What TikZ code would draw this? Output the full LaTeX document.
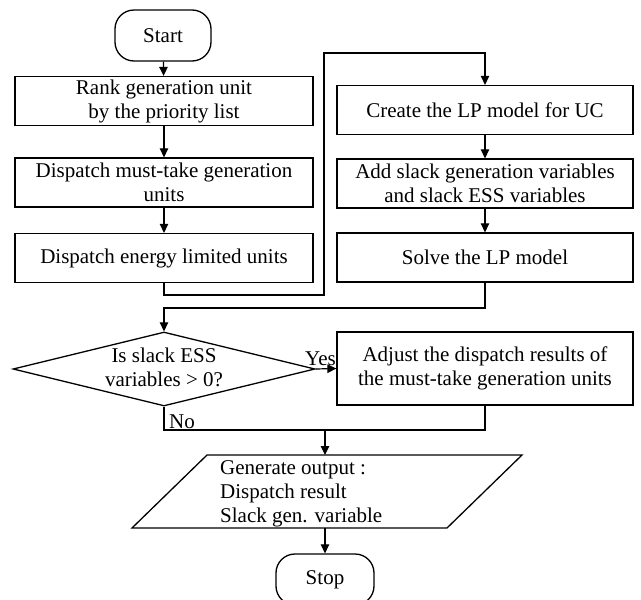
\documentclass[tikz,border=0pt]{standalone}
\usepackage{fontspec}
\setmainfont{Liberation Serif}
\usetikzlibrary{arrows.meta,shapes.geometric}
\begin{document}
\begin{tikzpicture}[x=1pt,y=-1pt,
  every node/.style={font=\fontsize{21}{24}\selectfont},
  proc/.style={draw, line width=1.3pt, minimum width=298pt, minimum height=49pt, inner sep=0pt, align=center},
  term/.style={draw, line width=1.3pt, rounded corners=19pt, minimum width=96pt, minimum height=51pt, inner sep=0pt},
  decision/.style={draw, diamond, line width=1.3pt, minimum width=302pt, minimum height=74pt, inner sep=0pt},
  arr/.style={line width=1.2pt, -{Triangle[length=9pt,width=8.5pt]}},
  ln/.style={line width=1.2pt},
  lbl/.style={inner sep=0pt}]
\useasboundingbox (0,0) rectangle (641,600);
\fill[white] (0,0) rectangle (641,600);
% left column
\node[term] (start) at (163,35.5) {Start};
\node[proc] (b1) at (164,101) {Rank generation unit\\by the priority list};
\node[proc] (b2) at (164,182.5) {Dispatch must-take generation\\units};
\node[proc] (b3) at (164,258) {Dispatch energy limited units};
% right column
\node[proc, minimum width=296pt] (b4) at (485,110) {Create the LP model for UC};
\node[proc, minimum width=296pt] (b5) at (485,183.5) {Add slack generation variables\\and slack ESS variables};
\node[proc, minimum width=296pt] (b6) at (485,257.5) {Solve the LP model};
% decision
\node[decision] (dec) at (164,369) {};
\node[lbl, align=center] (dectxt) at (164,367) {Is slack ESS\\variables > 0?};
\node[proc, minimum width=296pt, minimum height=73pt] (adj) at (485,368.5) {Adjust the dispatch results of\\the must-take generation units};
\node[lbl, anchor=base east] (yes) at (336,365) {Yes};
\node[lbl, anchor=base west] (no) at (169,428) {No};
% output
\coordinate (otop) at (325,455);
\coordinate (obot) at (325,528);
\draw[line width=1.3pt] (132,528) -- (447,528) -- (522,455) -- (207,455) -- cycle;
\node[lbl, align=left, anchor=west] (outtxt) at (220,494) {Generate output :\\Dispatch result\\Slack gen. variable};
\node[term, minimum width=98pt] (stop) at (325,579.5) {Stop};
% connectors
\draw[arr] (start) -- (b1);
\draw[arr] (b1) -- (b2);
\draw[arr] (b2) -- (b3);
\coordinate (l1) at (324,295);
\coordinate (l2) at (324,53);
\draw[arr] (b3.south) |- (l1) -- (l2) -| (b4.north);
\draw[arr] (b4) -- (b5);
\draw[arr] (b5) -- (b6);
\coordinate (m1) at (485,308);
\draw[arr] (b6.south) -- (m1) -| (dec.north);
\draw[arr] (dec.east) -- (adj.west);
\coordinate (nl) at (164,430);
\coordinate (nr) at (485,430);
\coordinate (j) at (325,430);
\draw[ln] (dec.south) -- (nl) -- (nr) -- (adj.south);
\draw[arr] (j) -- (otop);
\draw[arr] (obot) -- (stop.north);
\end{tikzpicture}
\end{document}
